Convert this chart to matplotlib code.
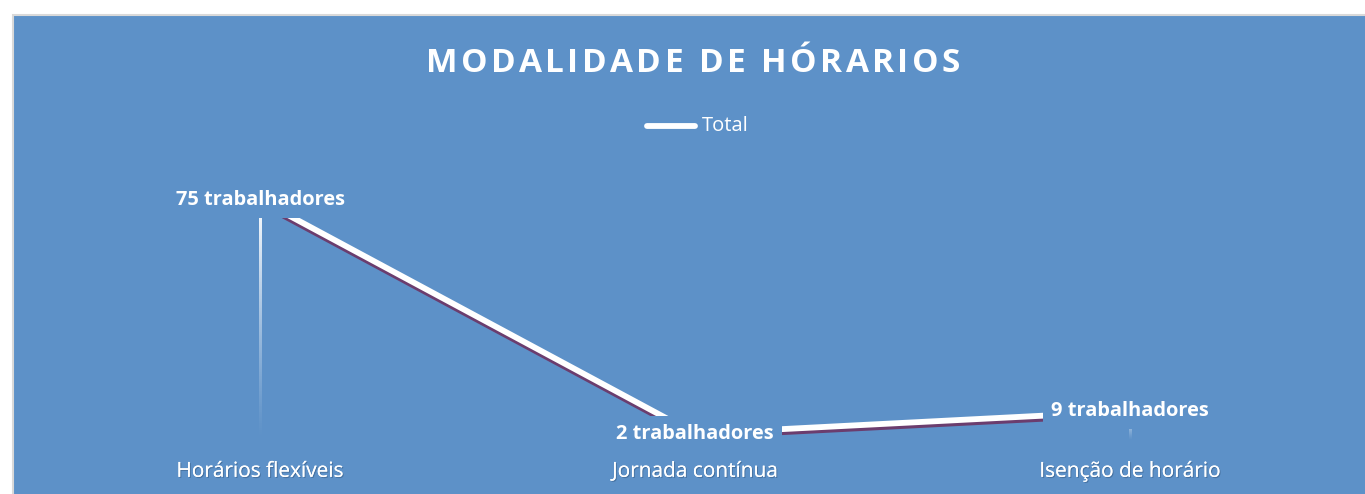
import matplotlib
matplotlib.use("Agg")
import matplotlib.pyplot as plt
import matplotlib.patheffects as pe
from matplotlib.patches import Rectangle
import numpy as np

categories = ["Horários flexíveis", "Jornada contínua", "Isenção de horário"]
values = [75, 2, 9]
labels = ["75 trabalhadores", "2 trabalhadores", "9 trabalhadores"]
title = "MODALIDADE DE HÓRARIOS"
series_name = "Total"

BG = "#5D91C8"
SHADOW = "#6B3D6E"
FONT = "Open Sans"

W, H = 1365, 494
fig = plt.figure(figsize=(W / 100, H / 100), dpi=100, facecolor="white")

# chart area background
fig.patches.append(Rectangle((13 / W, -0.05), 1.1, 1.05 - 15 / H, transform=fig.transFigure,
                             facecolor=BG, edgecolor="#D9D9D9", linewidth=1.5, zorder=-5))

ax = fig.add_axes([42.5 / W, 54 / H, 1305 / W, 240 / H])
ax.set_zorder(2)
ax.set_facecolor("none")
ax.set_xlim(-0.5, len(categories) - 0.5)
ax.set_ylim(0, 75)
for s in ax.spines.values():
    s.set_visible(False)
ax.set_yticks([])
x = np.arange(len(categories))

# gradient drop lines (white fading to transparent downward)
half_w = 1.4 / 435.0
grad = np.ones((256, 1, 4))
grad[:, 0, 3] = np.linspace(1.0, 0.0, 256) ** 1.2
for xi, v in zip(x, values):
    ax.imshow(grad, extent=(xi - half_w, xi + half_w, 0, v), origin="upper", aspect="auto",
              interpolation="bilinear", zorder=2)
ax.set_xlim(-0.5, len(categories) - 0.5)
ax.set_ylim(0, 75)

line, = ax.plot(x, values, color="white", linewidth=4.2, zorder=3, solid_capstyle="butt",
                label=series_name,
                path_effects=[pe.SimpleLineShadow(offset=(0, -2.2), shadow_color=SHADOW, alpha=1.0),
                              pe.Normal()])

for xi, v, lab in zip(x, values, labels):
    ax.text(xi, v, lab, ha="center", va="center", color="white", fontsize=14.4,
            fontweight="bold", family=FONT, zorder=5, clip_on=False,
            bbox=dict(boxstyle="square,pad=0.4", facecolor=BG, edgecolor="none"))

ax.set_xticks(x)
ax.set_xticklabels(categories, family=FONT, fontsize=15, color="white")
ax.tick_params(axis="x", length=0, pad=15)
for t in ax.get_xticklabels():
    t.set_path_effects([pe.withSimplePatchShadow(offset=(0.8, -0.8), shadow_rgbFace="#1F3A5A", alpha=0.35),
                        pe.Normal()])

# title with letter spacing
fig.canvas.draw()
renderer = fig.canvas.get_renderer()
tsize = 24
spacing = 3.4  # px between letters
widths = []
for ch in title:
    if ch == " ":
        sp = fig.text(0, 0, "a a", fontsize=tsize, fontweight="bold", family=FONT)
        sp2 = fig.text(0, 0, "aa", fontsize=tsize, fontweight="bold", family=FONT)
        w = sp.get_window_extent(renderer).width - sp2.get_window_extent(renderer).width
        sp.remove(); sp2.remove()
    else:
        t = fig.text(0, 0, ch, fontsize=tsize, fontweight="bold", family=FONT)
        w = t.get_window_extent(renderer).width
        t.remove()
    widths.append(w)
total = sum(widths) + spacing * (len(title) - 1)
cx = 693
xpos = cx - total / 2
ty = 1 - 60 / H
for ch, w in zip(title, widths):
    fig.text(xpos / W, ty, ch, ha="left", va="center_baseline", fontsize=tsize, fontweight="bold",
             family=FONT, color="white")
    xpos += w + spacing

# legend
lx0, lx1, ly = 647 / W, 695 / W, 1 - 126 / H
fig.lines.append(plt.Line2D([lx0, lx1], [ly, ly], transform=fig.transFigure, color="white",
                            linewidth=4.2, solid_capstyle="round"))
fig.text(702 / W, ly, series_name, ha="left", va="center", color="white", fontsize=14.5, family=FONT)

fig.savefig("out.png", dpi=100, facecolor="white")
